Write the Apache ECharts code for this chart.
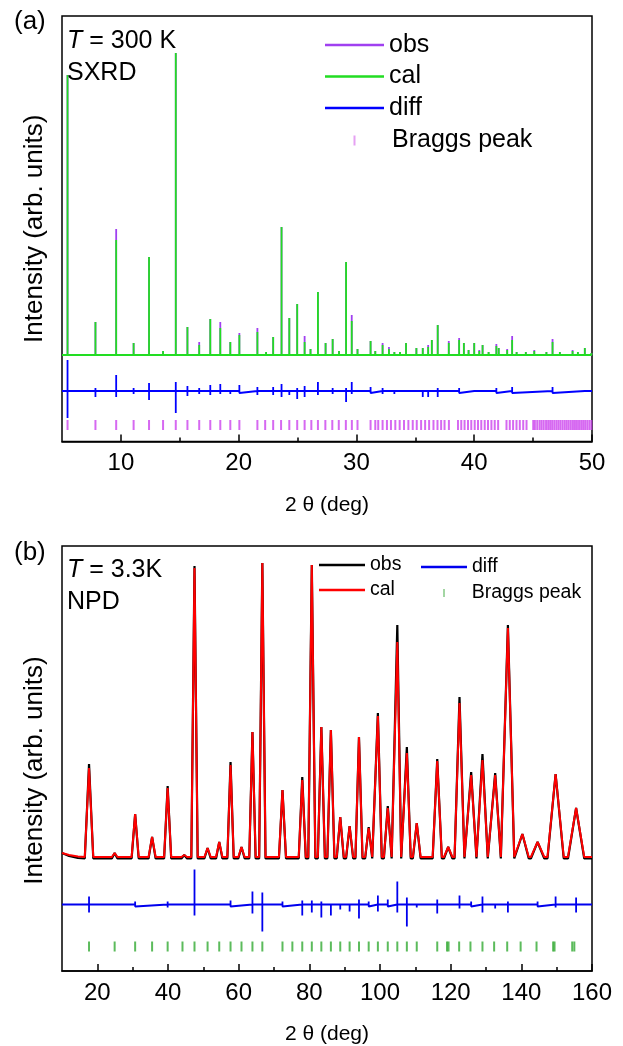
<!DOCTYPE html>
<html>
<head>
<meta charset="utf-8">
<script src="https://cdn.jsdelivr.net/npm/echarts@6/dist/echarts.min.js"></script>
<style>
  html, body { margin: 0; background: #fff; }
  #chart { width: 623px; height: 1046px; }
</style>
</head>
<body>
<div id="chart"></div>
<script>
// ---- panel (a): SXRD, T = 300 K ----
const aPeakPos = [5.47, 7.84, 9.60, 11.08, 12.39, 13.58, 14.66, 15.65, 16.65, 17.59, 18.44, 19.29, 20.06, 21.59, 22.33, 22.93, 23.64, 24.30, 24.97, 25.60, 26.10, 26.73, 27.38, 27.98, 28.52, 29.12, 29.60, 30.09, 31.20, 31.60, 32.22, 32.76, 33.22, 33.70, 34.21, 35.09, 35.63, 36.09, 36.40, 36.90, 37.38, 37.84, 38.72, 39.12, 39.52, 40.00, 40.43, 40.71, 41.22, 41.88, 42.08, 42.80, 43.22, 43.60, 44.38, 45.10, 46.13, 46.65, 47.27, 47.98, 48.35, 48.80, 49.39, 49.95]
const aCal = [280, 33, 115, 12, 98, 4, 302, 28, 10, 36, 27, 13, 20, 23, 3, 18, 128, 37, 51, 13, 6, 63, 12, 16, 4, 93, 34, 6, 14, 4, 10, 6, 3, 3, 12, 7, 7, 8, 15, 30, 2, 12, 15, 12, 5, 12, 4, 10, 3, 9, 7, 5, 15, 3, 3, 4, 3, 13, 3, 2, 4, 3, 7, 2]
const aObs = [280, 33, 126, 12, 98, 4, 302, 28, 13, 36, 33, 13, 22, 27, 3, 18, 128, 37, 51, 19, 6, 63, 12, 16, 4, 93, 40, 6, 14, 4, 12, 8, 3, 3, 12, 7, 7, 10, 15, 30, 2, 14, 17, 12, 5, 12, 5, 10, 3, 11, 7, 6, 19, 3, 3, 5, 3, 16, 3, 2, 5, 3, 7, 2]

const aDiffPos = [5.47, 7.84, 9.60, 11.08, 12.39, 14.66, 15.65, 16.65, 17.59, 18.44, 19.29, 20.06, 21.59, 22.93, 23.64, 24.30, 24.97, 25.60, 26.73, 27.98, 29.12, 29.60, 31.20, 32.22, 33.22, 34.21, 35.63, 36.09, 36.90, 38.72, 40.00, 41.88, 43.22, 46.65, 49.39]
const aDiffUp = [31, 3, 16, 3, 8, 9, 5, 3, 6, 7, 2, 6, 4, 4, 7, 2, 3, 5, 9, 3, 3, 9, 4, 3, 2, 2, 2, 2, 3, 3, 2, 3, 4, 4, 2]
const aDiffDown = [27, 6, 6, 3, 9, 22, 5, 3, 4, 3, 3, 2, 4, 4, 6, 4, 8, 6, 4, 3, 11, 3, 2, 3, 3, 2, 6, 6, 6, 2, 2, 2, 2, 2, 2]

const aBraggPos = [5.47, 7.84, 9.60, 11.08, 12.39, 13.58, 14.66, 15.65, 16.65, 17.59, 18.44, 19.29, 20.06, 21.59, 22.25, 22.93, 23.60, 24.30, 24.97, 25.60, 26.17, 26.73, 27.36, 27.95, 28.50, 29.10, 29.61, 30.09, 31.20, 31.60, 31.85, 32.22, 32.59, 32.93, 33.30, 33.67, 34.04, 34.41, 34.78, 35.12, 35.49, 35.83, 36.17, 36.54, 36.88, 37.19, 37.48, 37.85, 38.62, 38.90, 39.18, 39.47, 39.75, 40.04, 40.32, 40.60, 40.89, 41.17, 41.46, 41.74, 42.03, 42.74, 43.02, 43.30, 43.59, 43.87, 44.16, 44.44, 45.01, 45.15, 45.35, 45.55, 45.72, 45.90, 46.10, 46.28, 46.45, 46.62, 46.80, 46.98, 47.15, 47.32, 47.50, 47.68, 47.85, 48.02, 48.20, 48.38, 48.55, 48.72, 48.90, 49.08, 49.25, 49.42, 49.60, 49.78, 49.95]

const aMajorTicks = [10, 20, 30, 40, 50]
const aMinorTicks = [15, 25, 35, 45]
const aDiffBase = -36
const aBraggLevel = -70

// ---- panel (b): NPD, T = 3.3 K ----
const bPeakPos = [17.65, 24.9, 30.7, 35.5, 39.9, 44.6, 47.5, 51.2, 54.5, 57.7, 60.8, 63.9, 66.7, 72.4, 78.0, 80.7, 83.4, 86.1, 88.75, 91.4, 94.05, 96.8, 99.4, 102.2, 104.9, 107.6, 110.4, 116.2, 119.3, 122.5, 125.8, 129.0, 132.6, 136.2, 140.3, 144.6, 149.7, 155.5]
const bCal = [89, 4, 43, 20, 69, 2, 289, 9, 15, 92, 10, 125, 294, 67, 77, 292, 130, 127, 40, 31, 120, 29, 141, 49, 215, 104, 34, 96, 10, 154, 82, 97, 82, 229, 23, 15, 83, 49]
const bObs = [93, 4, 43, 20, 71, 2, 291, 9, 15, 95, 10, 125, 294, 67, 80, 292, 130, 127, 40, 31, 120, 30, 144, 51, 232, 110, 34, 98, 10, 160, 85, 103, 84, 232, 23, 15, 83, 49]
const bWidth = [1.2, 0.8, 1.0, 1.0, 1.0, 0.8, 0.9, 0.9, 0.9, 0.9, 0.9, 0.9, 0.9, 1.0, 1.0, 1.0, 1.0, 1.0, 1.0, 1.0, 1.0, 1.0, 1.1, 1.1, 1.1, 1.1, 1.1, 1.3, 1.2, 1.4, 1.5, 1.5, 1.6, 1.8, 1.8, 1.9, 2.3, 2.3]
const bBaseX = [10, 12, 14.5, 160]
const bCalBase = [4, 2, 0.5, 0]
const bObsBase = [4, 1, -1, -1.5]

const bDiffPos = [17.65, 30.7, 39.9, 47.5, 57.7, 63.9, 66.7, 72.4, 78.0, 80.7, 83.4, 86.1, 88.75, 91.4, 94.05, 96.8, 99.4, 102.2, 104.9, 107.6, 110.4, 116.2, 122.5, 125.8, 129.0, 132.6, 136.2, 144.6, 149.7, 155.5]
const bDiffUp = [8, 3, 3, 35, 4, 13, 12, 3, 4, 4, 3, 2, 2, 2, 5, 3, 9, 5, 23, 7, 2, 5, 9, 3, 8, 2, 3, 3, 8, 7]
const bDiffDown = [8, 2, 3, 11, 2, 9, 27, 2, 11, 8, 13, 11, 5, 7, 14, 2, 7, 2, 8, 22, 3, 9, 4, 2, 8, 4, 8, 2, 3, 8]

const bBraggPos = [17.65, 24.9, 30.7, 35.5, 39.9, 44.1, 47.5, 51.2, 54.5, 57.7, 60.8, 63.9, 66.7, 72.4, 75.2, 78.0, 80.7, 83.4, 86.1, 88.75, 91.4, 94.05, 96.8, 99.4, 102.2, 104.9, 107.6, 110.4, 116.2, 118.97, 119.4, 122.4, 125.6, 129.0, 132.3, 136.0, 139.8, 144.3, 149.0, 149.4, 154.4, 155.0]

const bMajorTicks = [20, 40, 60, 80, 100, 120, 140, 160]
const bMinorTicks = [30, 50, 70, 90, 110, 130, 150]
const bDiffBase = -47.5
const bBraggLevel = -89.5

const FONT = 'Liberation Sans, Arial, sans-serif'

// vertical sticks for the very narrow SXRD reflections
function sticks(pos, h, x0, x1) {
  const d = [[x0, 0]]
  pos.forEach((p, i) => { d.push([p, 0], [p, h[i]], [p, 0]) })
  d.push([x1, 0])
  return d
}

// narrow peaks for the NPD pattern
function peaks(pos, h, w, bx, by, foot) {
  const d = bx.map((x, i) => [x, by[i]])
  pos.forEach((p, i) => { d.push([p - w[i], foot], [p, h[i]], [p + w[i], foot]) })
  d.sort((a, b) => a[0] - b[0])
  return d
}

function spikes(pos, up, down, base, x0, x1) {
  const d = [[x0, base]]
  pos.forEach((p, i) => { d.push([p, base], [p, base + up[i]], [p, base - down[i]], [p, base]) })
  d.push([x1, base])
  return d
}

function xAxes(grid, min, max, major, minor, nameGap) {
  const common = { gridIndex: grid, type: 'value', min, max, position: 'bottom', splitLine: { show: false } }
  return [
    Object.assign({}, common, {
      axisLine: { show: true, onZero: false, lineStyle: { color: '#000', width: 1.5 } },
      axisTick: { show: true, inside: true, length: 7, customValues: major, lineStyle: { color: '#000', width: 1.5 } },
      axisLabel: { customValues: major, color: '#000', fontSize: 24, margin: 10, fontFamily: FONT },
      name: '2 θ (deg)', nameLocation: 'middle', nameGap,
      nameTextStyle: { color: '#000', fontSize: 21, fontFamily: FONT }
    }),
    Object.assign({}, common, {
      axisLine: { show: false, onZero: false },
      axisTick: { show: true, inside: true, length: 4, customValues: minor, lineStyle: { color: '#000', width: 1.5 } },
      axisLabel: { show: false }
    })
  ]
}

function yAxis(grid, min, max, pad) {
  return {
    gridIndex: grid, type: 'value', min, max,
    axisLine: { show: false }, axisTick: { show: false }, axisLabel: { show: false }, splitLine: { show: false },
    name: 'Intensity (arb. units)', nameLocation: 'middle', nameGap: 14, nameRotate: 90,
    nameTextStyle: { color: '#000', fontSize: 26, fontFamily: FONT, padding: pad }
  }
}

function line(name, xi, yi, data, color, width) {
  return {
    name, type: 'line', xAxisIndex: xi, yAxisIndex: yi, data,
    showSymbol: false, symbol: 'none', silent: true,
    itemStyle: { color }, lineStyle: { color, width, join: 'bevel' }
  }
}

function bragg(name, xi, yi, pos, level, color) {
  return {
    name, type: 'scatter', xAxisIndex: xi, yAxisIndex: yi, silent: true,
    data: pos.map(p => [p, level]),
    symbol: 'rect', symbolSize: [2, 10],
    itemStyle: { color }
  }
}

const plain = { color: '#000', fontFamily: FONT, fontWeight: 'normal' }
const italicT = { i: { fontStyle: 'italic', fontSize: 25, color: '#000', fontFamily: FONT } }
const strip = n => n.replace('_b', '')
const legA = { fontSize: 25, lineHeight: 25, color: '#000', fontFamily: FONT }
const legB = { fontSize: 19.5, lineHeight: 20, color: '#000', fontFamily: FONT }

const chart = echarts.init(document.getElementById('chart'))
chart.setOption({
  animation: false,
  backgroundColor: '#fff',
  textStyle: { fontFamily: FONT },
  title: [
    { text: '(a)', left: 9, top: 4, textStyle: Object.assign({ fontSize: 26 }, plain) },
    { text: '{i|T} = 300 K', left: 62, top: 24, textStyle: Object.assign({ fontSize: 25, rich: italicT }, plain) },
    { text: 'SXRD', left: 62, top: 56, textStyle: Object.assign({ fontSize: 25 }, plain) },
    { text: '(b)', left: 9, top: 535, textStyle: Object.assign({ fontSize: 26 }, plain) },
    { text: '{i|T} = 3.3K', left: 62, top: 553, textStyle: Object.assign({ fontSize: 25, rich: italicT }, plain) },
    { text: 'NPD', left: 62, top: 585, textStyle: Object.assign({ fontSize: 25 }, plain) }
  ],
  legend: [
    { data: ['obs', 'cal', 'diff'], orient: 'vertical', padding: 0, left: 325, top: 32.5, itemWidth: 59, itemHeight: 2.5, icon: 'rect', itemGap: 6.5, selectedMode: false, textStyle: legA },
    { data: [{ name: 'Braggs peak', itemStyle: { color: '#e08af0' } }], padding: 0, left: 353.5, top: 128, itemWidth: 2, itemHeight: 10, icon: 'rect', selectedMode: false, textStyle: Object.assign({ padding: [0, 0, 0, 31.5] }, legA) },
    { data: ['obs_b', 'cal_b'], orient: 'vertical', padding: 0, left: 319, top: 555, itemWidth: 46, itemHeight: 2.5, icon: 'rect', itemGap: 5, selectedMode: false, formatter: strip, textStyle: legB },
    { data: ['diff_b'], padding: 0, left: 421, top: 557, itemWidth: 46, itemHeight: 2.5, icon: 'rect', selectedMode: false, formatter: strip, textStyle: legB },
    { data: [{ name: 'Braggs peak_b', itemStyle: { color: '#8ccc8c' } }], padding: 0, left: 443, top: 583, itemWidth: 2, itemHeight: 8, icon: 'rect', selectedMode: false, formatter: strip, textStyle: Object.assign({ padding: [0, 0, 0, 21.7] }, legB) }
  ],
  grid: [
    { left: 62, top: 16, width: 530, height: 425.5, show: true, borderColor: '#000', borderWidth: 1.5 },
    { left: 62, top: 546, width: 530, height: 425, show: true, borderColor: '#000', borderWidth: 1.5 }
  ],
  xAxis: [].concat(
    xAxes(0, 5, 50, aMajorTicks, aMinorTicks, 53),
    xAxes(1, 10, 160, bMajorTicks, bMinorTicks, 53)
  ),
  yAxis: [yAxis(0, -86.5, 339, 0), yAxis(1, -114, 311, [0, 24, 0, 0])],
  series: [
    line('obs', 0, 0, sticks(aPeakPos, aObs, 5, 50), '#a040f0', 1.8),
    line('cal', 0, 0, sticks(aPeakPos, aCal, 5, 50), '#22dd22', 1.8),
    line('diff', 0, 0, spikes(aDiffPos, aDiffUp, aDiffDown, aDiffBase, 5, 50), '#0000ff', 1.8),
    bragg('Braggs peak', 0, 0, aBraggPos, aBraggLevel, '#cc44ee'),
    line('obs_b', 2, 1, peaks(bPeakPos, bObs, bWidth, bBaseX, bObsBase, -1.5), '#000000', 2.2),
    line('cal_b', 2, 1, peaks(bPeakPos, bCal, bWidth, bBaseX, bCalBase, 0), '#ff0000', 2),
    line('diff_b', 2, 1, spikes(bDiffPos, bDiffUp, bDiffDown, bDiffBase, 10, 160), '#0000ee', 1.8),
    bragg('Braggs peak_b', 2, 1, bBraggPos, bBraggLevel, '#33aa33')
  ]
})
</script>
</body>
</html>
